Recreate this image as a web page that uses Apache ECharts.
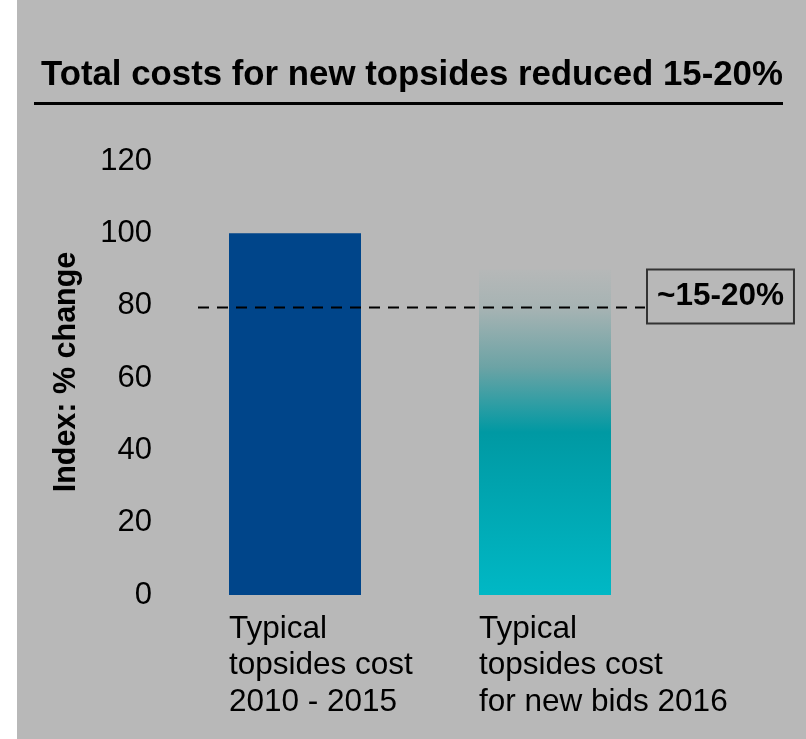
<!DOCTYPE html>
<html>
<head>
<meta charset="utf-8">
<script src="https://cdn.jsdelivr.net/npm/echarts@6/dist/echarts.min.js"></script>
<style>
  html, body { margin: 0; padding: 0; background: #ffffff; }
  #chart { width: 806px; height: 739px; }
</style>
</head>
<body>
<div id="chart"></div>
<script>
// Categories (multi-line labels under each bar)
const categories = [
  'Typical\ntopsides cost\n2010 - 2015',
  'Typical\ntopsides cost\nfor new bids 2016'
];
// Cost index values
const costIndex = [100, 90];
// Reference level and its annotation
const referenceLevel = 79.5;
const referenceSpan = [-0.388, 1.4];   // in category-index units
const referenceText = '~15-20%';
// Value axis ticks
const yMin = 0, yMax = 120, yStep = 20;

const FONT = '"Liberation Sans", Arial, Helvetica, sans-serif';

const chart = echarts.init(document.getElementById('chart'), null, { renderer: 'canvas' });

const option = {
  animation: false,
  backgroundColor: '#b8b8b8',
  title: {
    text: 'Total costs for new topsides reduced 15-20%',
    left: 41,
    top: 58,
    padding: 0,
    textStyle: { fontFamily: FONT, fontSize: 34.8, fontWeight: 'bold', color: '#000' }
  },
  graphic: [
    { type: 'rect', left: 0, top: 0, shape: { width: 17, height: 739 }, style: { fill: '#ffffff' }, silent: true },
    { type: 'line', shape: { x1: 34, y1: 103.5, x2: 783, y2: 103.5 }, style: { stroke: '#000', lineWidth: 3 }, silent: true }
  ],
  grid: { left: 170, right: 136, top: 161, bottom: 144, containLabel: false },
  xAxis: [
    {
      type: 'category',
      data: categories,
      axisLine: { show: false },
      axisTick: { show: false },
      axisLabel: { show: false },
      splitLine: { show: false }
    },
    {
      type: 'value',
      min: -0.5,
      max: 1.5,
      show: false
    }
  ],
  yAxis: {
    type: 'value',
    min: yMin,
    max: yMax,
    interval: yStep,
    name: 'Index: % change',
    nameLocation: 'middle',
    nameRotate: 90,
    nameGap: 88,
    nameTextStyle: { fontFamily: FONT, fontSize: 30.5, fontWeight: 'bold', color: '#000', padding: [0, 0, 0, 12] },
    axisLine: { show: false },
    axisTick: { show: false },
    splitLine: { show: false },
    axisLabel: { fontFamily: FONT, fontSize: 31, color: '#000', margin: 18 }
  },
  series: [
    {
      type: 'bar',
      barWidth: 132,
      data: [
        { value: costIndex[0], itemStyle: { color: '#00458a' } },
        {
          value: costIndex[1],
          itemStyle: {
            color: new echarts.graphic.LinearGradient(0, 0, 0, 1, [
              { offset: 0, color: '#b6b8b8' },
              { offset: 0.12, color: '#a6b3b3' },
              { offset: 0.3, color: '#6ca3a5' },
              { offset: 0.5, color: '#0099a3' },
              { offset: 1, color: '#00b8c5' }
            ])
          }
        }
      ],
      label: {
        show: true,
        position: [0, '100%'],
        offset: [0, 16],
        align: 'left',
        verticalAlign: 'top',
        fontFamily: FONT,
        fontSize: 31.5,
        lineHeight: 36.5,
        color: '#000',
        formatter: (p) => categories[p.dataIndex]
      },
      silent: true
    },
    {
      type: 'line',
      xAxisIndex: 1,
      yAxisIndex: 0,
      data: [[referenceSpan[0], referenceLevel], [referenceSpan[1], referenceLevel]],
      symbol: 'none',
      lineStyle: { color: '#000', width: 2, type: [11, 8] },
      endLabel: {
        show: true,
        formatter: referenceText,
        fontFamily: FONT,
        fontSize: 31.5,
        fontWeight: 'bold',
        color: '#000',
        borderColor: '#333',
        borderWidth: 2,
        padding: [12, 10, 10, 10],
        distance: 2,
        offset: [0, -11]
      },
      silent: true,
      z: 5
    }
  ]
};

chart.setOption(option);
</script>
</body>
</html>
